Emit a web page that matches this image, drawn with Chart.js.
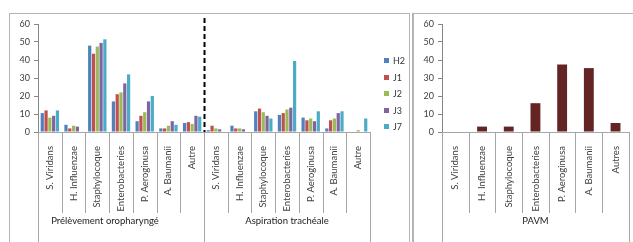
<!DOCTYPE html>
<html>
<head>
<meta charset="utf-8">
<script src="https://cdn.jsdelivr.net/npm/chart.js@4/dist/chart.umd.min.js"></script>
<style>
  html, body { margin: 0; padding: 0; background: #fff; width: 633px; height: 242px; overflow: hidden; }
  .box { position: absolute; border: 1px solid #b4b4b4; box-sizing: border-box; }
  canvas { position: absolute; }
  #legend { position: absolute; left: 384px; top: 55px; font: 9px Lato, sans-serif; color: #333; }
  #legend div { height: 16.5px; line-height: 12px; white-space: nowrap; }
  #legend span { display: inline-block; width: 5px; height: 5px; margin-right: 4px; vertical-align: 1px; }
</style>
</head>
<body>
<div class="box" style="left:9px;top:13px;width:401px;height:245px;"></div>
<div class="box" style="left:412px;top:13px;width:240px;height:245px;border-left-width:2px;"></div>
<canvas id="left" width="399" height="228" style="left:10px;top:14px;"></canvas>
<canvas id="right" width="220" height="228" style="left:413px;top:14px;"></canvas>
<div id="legend"></div>
<script>
// ---- data ----
const species = ['S. Viridans', 'H. Influenzae', 'Staphylocoque', 'Enterobacteries', 'P. Aeroginusa', 'A. Baumanii', 'Autre'];
const groups = ['Prélèvement oropharyngé', 'Aspiration trachéale'];
const seriesNames = ['H2', 'J1', 'J2', 'J3', 'J7'];

// oropharyngé (7) then aspiration trachéale (7)
const h2 = [10.5, 4, 48, 17, 6, 2, 5,      1, 3.5, 11.5, 9.5, 8, 2, 0];
const j1 = [12, 2, 43.5, 21, 9, 2, 5.5,    3.5, 2, 13, 10.5, 6.5, 6.5, 0];
const j2 = [8, 3.5, 47.5, 22, 11, 3.5, 4.5, 2, 2, 11, 12.5, 7.5, 7.5, 1];
const j3 = [9, 3, 49.5, 27, 17, 6, 9,      1.5, 1.5, 9, 13.5, 6, 10.5, 0];
const j7 = [12, 0, 51.5, 32, 20, 4, 8.5,   0, 0, 7.5, 39.5, 11.5, 11.5, 7.5];

const pavmSpecies = ['S. Viridans', 'H. Influenzae', 'Staphylocoque', 'Enterobacteries', 'P. Aeroginusa', 'A. Baumanii', 'Autres'];
const pavmGroup = ['PAVM'];
const pavm = [0, 3, 3, 16, 37.5, 35.5, 5];

const yTicks = [0, 10, 20, 30, 40, 50, 60];

// ---- style ----
const COLORS = ['#4f81bd', '#c0504d', '#9bbb59', '#8064a2', '#4bacc6'];
const PAVM_COLOR = '#632423';
const FONT = 'Lato, sans-serif';
const TEXT = '#404040';
const LINE = '#a6a6a6';

// separators under the category axis + group captions
const groupAxis = {
  id: 'groupAxis',
  afterDraw(chart, args, opts) {
    const ctx = chart.ctx;
    const x = chart.scales.x;
    const area = chart.chartArea;
    const n = chart.data.labels.length;
    const size = opts.groupSize;
    const bottom = chart.height;
    const edge = i => {
      if (i === 0) return x.left;
      if (i === n) return x.right;
      return (x.getPixelForValue(i - 1) + x.getPixelForValue(i)) / 2;
    };
    ctx.save();
    ctx.lineWidth = 1;
    for (let i = 0; i <= n; i++) {
      const px = Math.round(edge(i)) + 0.5;
      const long = i % size === 0;
      ctx.strokeStyle = LINE;
      ctx.beginPath();
      ctx.moveTo(px, area.bottom);
      ctx.lineTo(px, long ? bottom : area.bottom + opts.tickLen);
      ctx.stroke();
      if (long && i > 0 && i < n) {
        ctx.strokeStyle = '#000';
        ctx.lineWidth = 2;
        ctx.setLineDash([5, 3]);
        ctx.beginPath();
        ctx.moveTo(px, area.top - 6);
        ctx.lineTo(px, area.bottom);
        ctx.stroke();
        ctx.setLineDash([]);
        ctx.lineWidth = 1;
      }
    }
    ctx.fillStyle = '#222';
    ctx.font = '9.5px ' + FONT;
    ctx.textAlign = 'center';
    ctx.textBaseline = 'middle';
    opts.names.forEach((name, g) => {
      const cx = (edge(g * size) + edge((g + 1) * size)) / 2 + (opts.shift[g] || 0);
      ctx.fillText(name, cx, area.bottom + opts.labelOffset);
    });
    ctx.restore();
  }
};

function scalesFor(yWidth) {
  return {
    x: {
      offset: true,
      grid: { display: false },
      border: { color: LINE },
      ticks: {
        autoSkip: false, minRotation: 90, maxRotation: 90, padding: 6,
        color: TEXT, font: { family: FONT, size: 9.5 }
      },
      afterFit(scale) { scale.height = 110; }
    },
    y: {
      min: 0, max: 60,
      afterBuildTicks(scale) { scale.ticks = yTicks.map(v => ({ value: v })); },
      grid: { drawOnChartArea: false, tickLength: 4, color: '#868686' },
      border: { color: '#868686' },
      ticks: { color: TEXT, padding: 4, font: { family: FONT, size: 9 } },
      afterFit(scale) { scale.width = yWidth; }
    }
  };
}

const seriesData = [h2, j1, j2, j3, j7];

new Chart(document.getElementById('left'), {
  type: 'bar',
  data: {
    labels: species.concat(species),
    datasets: seriesNames.map((name, i) => ({
      label: name,
      data: seriesData[i],
      backgroundColor: COLORS[i],
      categoryPercentage: 0.8,
      barPercentage: 0.85
    }))
  },
  options: {
    responsive: false,
    animation: false,
    layout: { padding: { top: 10, right: 39 } },
    plugins: {
      legend: { display: false },
      tooltip: { enabled: false },
      groupAxis: { groupSize: species.length, tickLen: 81, labelOffset: 89, names: groups, shift: [-16, 0] }
    },
    scales: scalesFor(28)
  },
  plugins: [groupAxis]
});

new Chart(document.getElementById('right'), {
  type: 'bar',
  data: {
    labels: pavmSpecies,
    datasets: [{
      label: 'PAVM',
      data: pavm,
      backgroundColor: PAVM_COLOR,
      categoryPercentage: 0.37,
      barPercentage: 1
    }]
  },
  options: {
    responsive: false,
    animation: false,
    layout: { padding: { top: 10, right: 1 } },
    plugins: {
      legend: { display: false },
      tooltip: { enabled: false },
      groupAxis: { groupSize: pavmSpecies.length, tickLen: 81, labelOffset: 89, names: pavmGroup, shift: [0] }
    },
    scales: scalesFor(29)
  },
  plugins: [groupAxis]
});

// legend for the left chart
const legend = document.getElementById('legend');
seriesNames.forEach((name, i) => {
  const row = document.createElement('div');
  row.innerHTML = '<span style="background:' + COLORS[i] + '"></span>' + name;
  legend.appendChild(row);
});
</script>
</body>
</html>
